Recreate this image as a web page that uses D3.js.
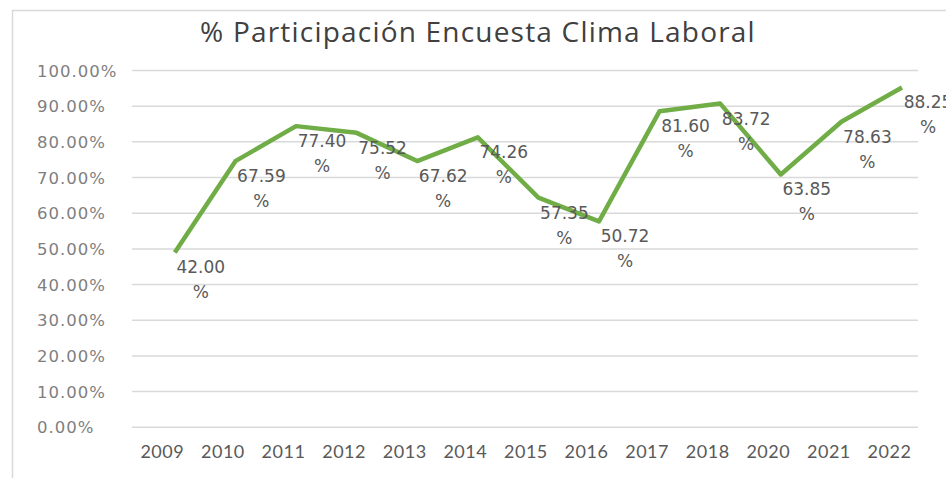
<!DOCTYPE html>
<html>
  <head>
    <meta charset="utf-8">
    <title>% Participación Encuesta Clima Laboral</title>
    <style>
      html, body { margin: 0; padding: 0; background: #fff; }
      svg { display: block; }
    </style>
  </head>
  <body>
    <svg width="946" height="478"></svg>
    <script src="https://d3js.org/d3.v7.min.js"></script>
    <script>
      var years = ['2009', '2010', '2011', '2012', '2013', '2014', '2015', '2016', '2017', '2018', '2020', '2021', '2022'];
      var participation = [42.00, 67.59, 77.40, 75.52, 67.62, 74.26, 57.35, 50.72, 81.60, 83.72, 63.85, 78.63, 88.25];
      var yTicks = [0, 10, 20, 30, 40, 50, 60, 70, 80, 90, 100];

      var svg = d3.select('svg');

      // frame of the chart area (only top and left edges show)
      svg.append('path')
        .attr('d', 'M12.5,478 V10.5 H946')
        .attr('fill', 'none')
        .attr('stroke', '#d9d9d9')
        .attr('stroke-width', 1.5);

      svg.append('text')
        .attr('x', 478)
        .attr('y', 42)
        .attr('text-anchor', 'middle')
        .attr('font-family', 'Open Sans')
        .attr('font-size', 28)
        .attr('letter-spacing', 1.2)
        .attr('fill', '#404040')
        .text('% Participación Encuesta Clima Laboral');

      var xScale = d3.scalePoint().domain(years).range([162.3, 889.5]);
      var yScale = d3.scaleLinear().domain([0, 100]).range([427.3, 70.5]);

      // the plotted series sits slightly off the axes in the original picture
      var xSeries = d3.scalePoint().domain(years).range([162.3 + 12.5, 889.5 + 12.5]);
      var ySeries = d3.scaleLinear().domain([0, 100]).range([427.3 - 25, 70.5 - 25]);

      svg.append('g')
        .selectAll('line')
        .data(yTicks)
        .enter()
        .append('line')
          .attr('x1', 132)
          .attr('x2', 918)
          .attr('y1', function(d) { return yScale(d); })
          .attr('y2', function(d) { return yScale(d); })
          .attr('stroke', '#d9d9d9')
          .attr('stroke-width', 1.5);

      svg.append('g')
        .selectAll('text')
        .data(yTicks)
        .enter()
        .append('text')
          .attr('x', 37)
          .attr('y', function(d) { return yScale(d) + 6; })
          .attr('font-family', 'DejaVu Sans')
          .attr('font-size', 16.5)
          .attr('letter-spacing', 1)
          .attr('fill', '#7f7f7f')
          .text(function(d) { return d3.format('.2f')(d) + '%'; });

      svg.append('g')
        .selectAll('text')
        .data(years)
        .enter()
        .append('text')
          .attr('x', function(d) { return xScale(d); })
          .attr('y', 458)
          .attr('text-anchor', 'middle')
          .attr('font-family', 'Lato')
          .attr('font-size', 18)
          .attr('letter-spacing', 0.5)
          .attr('fill', '#595959')
          .text(function(d) { return d; });

      var line = d3.line()
        .x(function(d, i) { return xSeries(years[i]); })
        .y(function(d) { return ySeries(d); });

      svg.append('path')
        .datum(participation)
        .attr('d', line)
        .attr('fill', 'none')
        .attr('stroke', '#70ad47')
        .attr('stroke-width', 4.5)
        .attr('stroke-linejoin', 'round');

      var labels = svg.append('g')
        .selectAll('text')
        .data(participation)
        .enter()
        .append('text')
          .attr('text-anchor', 'middle')
          .attr('font-family', 'DejaVu Sans')
          .attr('font-size', 17)
          .attr('fill', '#595959')
          .attr('x', function(d, i) { return xSeries(years[i]) + 26; })
          .attr('y', function(d) { return ySeries(d) + 21; });

      labels.append('tspan')
        .text(function(d) { return d3.format('.2f')(d); });
      labels.append('tspan')
        .attr('x', function(d, i) { return xSeries(years[i]) + 26; })
        .attr('dy', 25)
        .text('%');
    </script>
  </body>
</html>
